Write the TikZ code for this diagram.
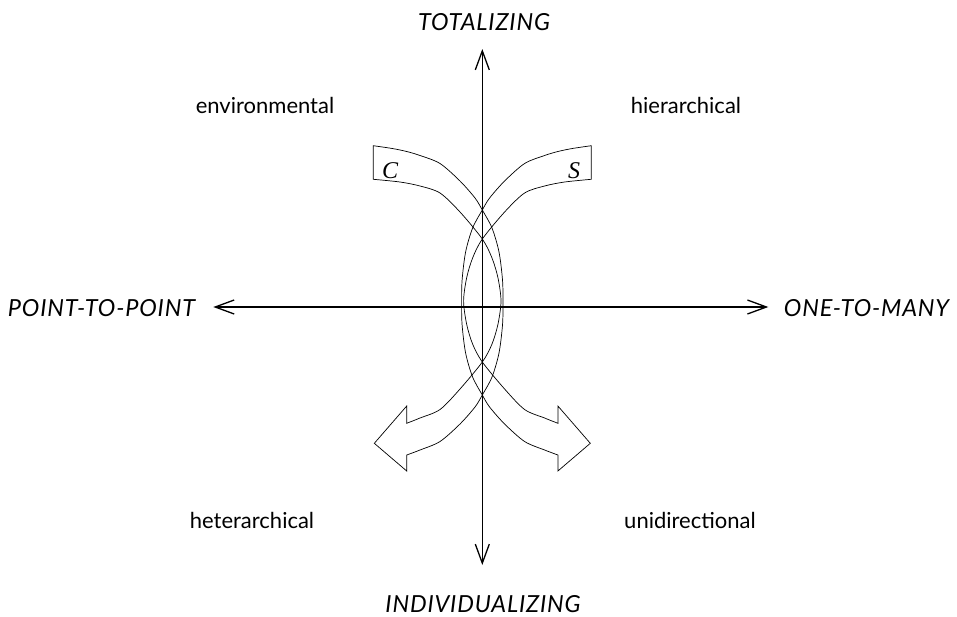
\documentclass[tikz,border=0pt]{standalone}
\usepackage{fontspec}
\newfontfamily\labfont{Lato}
\newfontfamily\capfont[LetterSpace=3.5]{Lato}
\newfontfamily\letfont{Liberation Serif}
\usetikzlibrary{arrows.meta}
\tikzset{
  axis/.style={line width=1.3pt, {Straight Barb[length=19pt,width=14pt]}-{Straight Barb[length=19pt,width=14pt]}},
  band/.style={line width=0.7pt, line join=miter},
  axlabel/.style={font=\capfont\itshape\fontsize{23.5}{28}\selectfont, inner sep=0pt, anchor=base},
  quadlabel/.style={font=\labfont\fontsize{22}{26}\selectfont, inner sep=0pt, anchor=base},
  letter/.style={font=\letfont\itshape\fontsize{24}{28}\selectfont, inner sep=0pt}
}
\newcommand\bandpath{%
  plot[smooth] coordinates {(-109,145.7) (-90,148.5) (-75.6,151.5) (-62.3,155.5) (-42.3,163.5) (-22.3,181) (-7.3,198) (0,210) (9.7,228) (16.7,252) (20.2,280) (20.7,302.5) (20.2,325) (16.7,353) (9.7,377) (0,395) (-7.3,407) (-22.3,424) (-42.3,441.5) (-62.3,450) (-75.6,455)}
  -- (-75.6,471) -- (-108,443.3) -- (-75.6,406)
  -- plot[smooth] coordinates {(-75.6,423.3) (-62.3,418) (-42.3,409.5) (-22.3,389) (0,362) (9.7,344) (15.7,324) (18.7,301) (15.7,278) (9.7,258) (0,239) (-22.3,212) (-42.3,193) (-62.3,186) (-82.3,182) (-109,179.3)}
  -- cycle}
\begin{document}
\begin{tikzpicture}[x=1pt,y=-1pt]
\useasboundingbox (0,0) rectangle (957,616);
% bands
\begin{scope}[shift={(482.3,0)}]
  \draw[band] \bandpath;
\end{scope}
\begin{scope}[shift={(482.3,0)}, xscale=-1]
  \draw[band] \bandpath;
\end{scope}
\node[letter] (c) at (390,170.5) {C};
\node[letter] (s) at (574,170.7) {S};
% axes
\coordinate (top) at (482.3,49);
\coordinate (bottom) at (482.3,565);
\coordinate (left) at (213.3,307);
\coordinate (right) at (768.3,307);
\draw[axis] (bottom) -- (top);
\draw[axis] (left) -- (right);
% labels
\node[axlabel] (tot) at (484,30) {TOTALIZING};
\node[axlabel] (ind) at (483,612.5) {INDIVIDUALIZING};
\node[axlabel] (ptp) at (101.5,316.7) {POINT-TO-POINT};
\node[axlabel] (otm) at (866.5,316.7) {ONE-TO-MANY};
\node[quadlabel] (env) at (265,113) {environmental};
\node[quadlabel] (hie) at (686,113) {hierarchical};
\node[quadlabel] (het) at (252,528) {heterarchical};
\node[quadlabel] (uni) at (690,528) {unidirectional};
\end{tikzpicture}
\end{document}
